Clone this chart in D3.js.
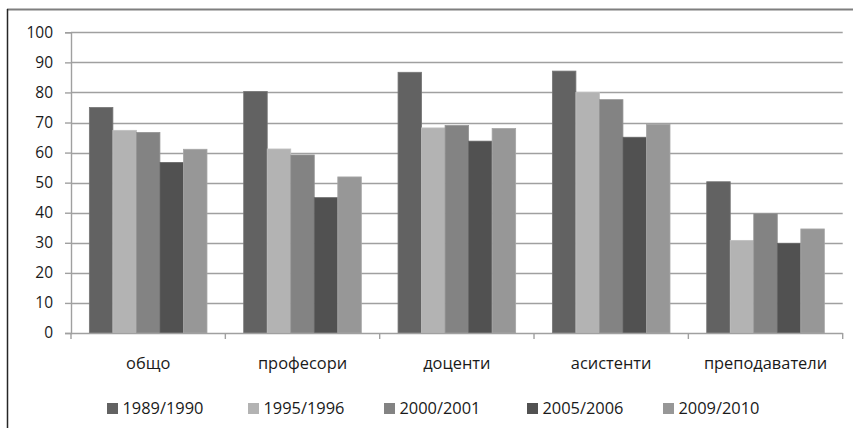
<!DOCTYPE html>
<html>
<head>
<meta charset="utf-8">
<script src="https://cdn.jsdelivr.net/npm/d3@7"></script>
<style>
  html, body { margin: 0; padding: 0; background: #fff; }
  svg { display: block; }
  text { font-family: "Open Sans", sans-serif; fill: #1a1a1a; }
</style>
</head>
<body>
<svg id="chart" width="853" height="428"></svg>
<script>
// Categories, series names and values (percent)
const categories = ["общо", "професори", "доценти", "асистенти", "преподаватели"];
const seriesNames = ["1989/1990", "1995/1996", "2000/2001", "2005/2006", "2009/2010"];
const s1989 = [75.0, 80.3, 86.7, 87.1, 50.3];
const s1995 = [67.4, 61.2, 68.2, 80.0, 30.8];
const s2000 = [66.7, 59.2, 69.0, 77.6, 39.7];
const s2005 = [56.7, 45.0, 63.8, 65.1, 29.8];
const s2009 = [61.1, 51.9, 68.0, 69.4, 34.6];
const seriesValues = [s1989, s1995, s2000, s2005, s2009];
const yTicks = [0, 10, 20, 30, 40, 50, 60, 70, 80, 90, 100];
const seriesColors = ["#626262", "#b3b3b3", "#838383", "#515151", "#979797"];
const seriesEdges = ["#767676", "#c0c0c0", "#949494", "#656565", "#a6a6a6"];

const TICK_FONT = "15.5px";
const LABEL_FONT = "16.4px";
const svg = d3.select("#chart");
const plot = { left: 71, right: 842.7, top: 32.3, bottom: 333 };

// Outer frame (top and left edges)
svg.append("line").attr("x1", 7).attr("x2", 853).attr("y1", 9.5).attr("y2", 9.5)
  .attr("stroke", "#7f7f7f").attr("stroke-width", 2);
svg.append("line").attr("x1", 7.5).attr("x2", 7.5).attr("y1", 9).attr("y2", 428)
  .attr("stroke", "#262626").attr("stroke-width", 1.5);

const y = d3.scaleLinear().domain([0, 100]).range([plot.bottom, plot.top]);
const x0 = d3.scaleBand().domain(categories).range([plot.left, plot.right]).padding(0);
const inset = x0.bandwidth() * 0.119;
const x1 = d3.scaleBand().domain(d3.range(seriesNames.length))
  .range([inset, x0.bandwidth() - inset]).padding(0);

// Horizontal gridlines
svg.append("g").selectAll("line").data(yTicks.filter(d => d > 0)).join("line")
  .attr("x1", plot.left).attr("x2", plot.right)
  .attr("y1", d => Math.round(y(d)) + 0.5).attr("y2", d => Math.round(y(d)) + 0.5)
  .attr("stroke", "#a0a0a0").attr("stroke-width", 1.4);

// Y axis
const yAxis = svg.append("g").attr("transform", `translate(${plot.left},0)`)
  .call(d3.axisLeft(y).tickValues(yTicks).tickSize(6).tickPadding(12));
yAxis.select(".domain").attr("stroke", "#a0a0a0").attr("stroke-width", 1.4);
yAxis.selectAll(".tick line").attr("stroke", "#a0a0a0").attr("stroke-width", 1.4);
yAxis.selectAll(".tick text").style("font-size", TICK_FONT).style("font-family", "Open Sans")
  .attr("fill", "#1a1a1a");

// Bars
const groups = svg.append("g").selectAll("g").data(categories).join("g")
  .attr("transform", d => `translate(${x0(d)},0)`);
groups.selectAll("rect")
  .data((c, ci) => seriesValues.map((vals, si) => ({ si, v: vals[ci] })))
  .join("rect")
  .attr("x", d => x1(d.si))
  .attr("width", x1.bandwidth())
  .attr("y", d => y(d.v))
  .attr("height", d => y(0) - y(d.v))
  .attr("fill", d => seriesColors[d.si])
  .attr("stroke", d => seriesEdges[d.si])
  .attr("stroke-width", 0.8);

// X axis with category boundary ticks
const xAxisG = svg.append("g");
xAxisG.append("line").attr("x1", plot.left).attr("x2", plot.right)
  .attr("y1", plot.bottom + 0.5).attr("y2", plot.bottom + 0.5)
  .attr("stroke", "#a0a0a0").attr("stroke-width", 1.4);
const boundaries = categories.map(c => x0(c)).concat([plot.right]);
xAxisG.selectAll("line.b").data(boundaries).join("line").attr("class", "b")
  .attr("x1", d => d).attr("x2", d => d)
  .attr("y1", plot.bottom).attr("y2", plot.bottom + 6)
  .attr("stroke", "#a0a0a0").attr("stroke-width", 1.4);
xAxisG.selectAll("text").data(categories).join("text")
  .attr("x", d => x0(d) + x0.bandwidth() / 2)
  .attr("y", 369)
  .attr("text-anchor", "middle")
  .style("font-size", LABEL_FONT)
  .text(d => d);

// Legend
const legendX = [107, 248, 384, 527, 663];
const legend = svg.append("g").selectAll("g").data(seriesNames).join("g")
  .attr("transform", (d, i) => `translate(${legendX[i]},414)`);
legend.append("rect").attr("x", 0).attr("y", -11).attr("width", 11).attr("height", 11)
  .attr("fill", (d, i) => seriesColors[i]);
legend.append("text").attr("x", 15.5).attr("y", 0).style("font-size", LABEL_FONT).text(d => d);
</script>
</body>
</html>
